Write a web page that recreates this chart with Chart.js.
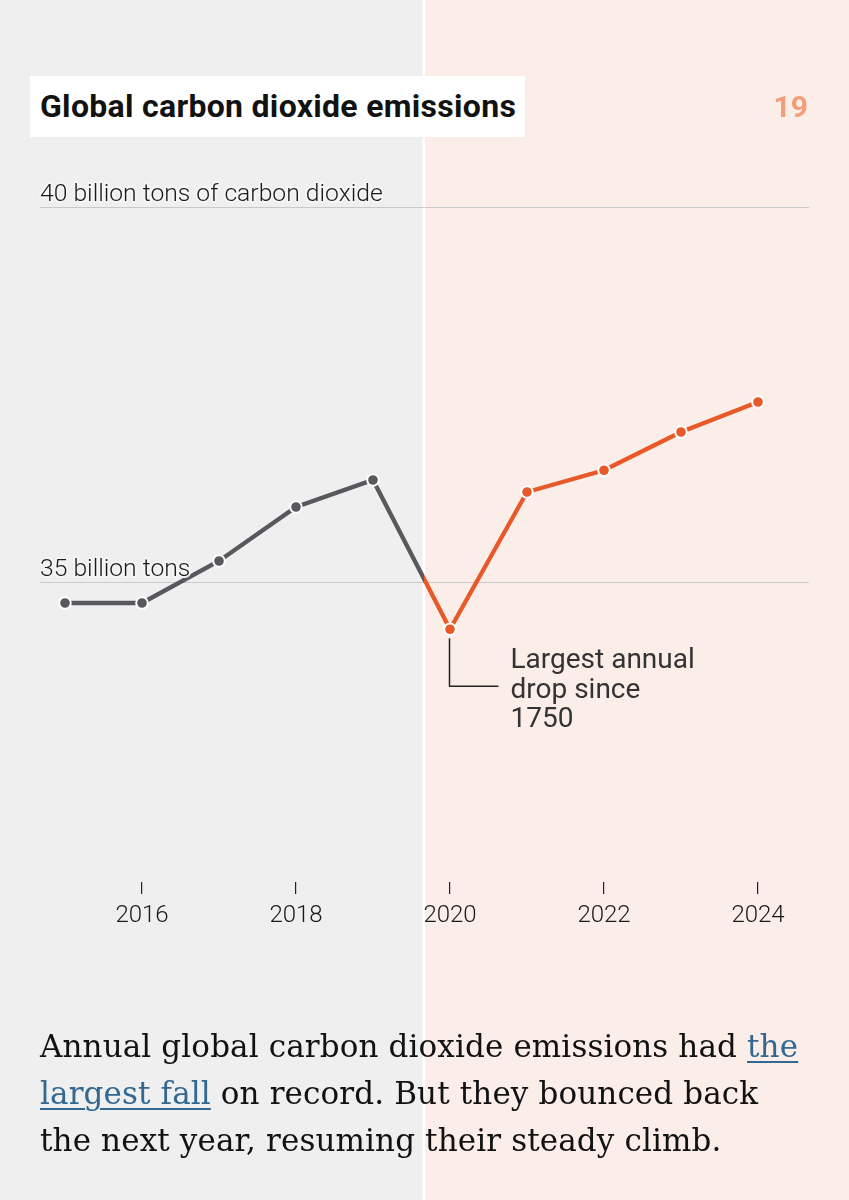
<!DOCTYPE html>
<html>
<head>
<meta charset="utf-8">
<script src="https://cdn.jsdelivr.net/npm/chart.js@4/dist/chart.umd.min.js"></script>
<style>
  html, body { margin: 0; padding: 0; }
  body { width: 849px; height: 1200px; position: relative; overflow: hidden; background: #efefef; }
  #grafico { position: absolute; left: 0; top: 0; }
  .titulo {
    position: absolute; left: 30px; top: 76px; width: 495px; height: 61px;
    background: #fff; box-sizing: border-box; padding-left: 10px;
    font: 700 32px/61px Roboto, sans-serif; letter-spacing: 0.3px; color: #121212;
    white-space: nowrap;
  }
  .numero {
    position: absolute; right: 41px; top: 76px; height: 61px;
    font: 700 30px/61px Roboto, sans-serif; color: #f29e7b;
  }
  .texto {
    position: absolute; left: 40px; top: 1023px; margin: 0;
    font: 400 31px/47px "DejaVu Serif", serif; color: #121212; white-space: nowrap;
    letter-spacing: 0.12px;
  }
  .texto a { color: #326891; text-decoration: underline; text-underline-offset: 4px; text-decoration-thickness: 1.5px; }
</style>
</head>
<body>
<canvas id="grafico" width="849" height="1200"></canvas>
<div class="titulo">Global carbon dioxide emissions</div>
<div class="numero">19</div>
<p class="texto">Annual global carbon dioxide emissions had <a>the<br>largest fall</a> on record. But they bounced back<br>the next year, resuming their steady climb.</p>

<script>
// datos (miles de millones de toneladas de CO2)
const years = [2015, 2016, 2017, 2018, 2019, 2020, 2021, 2022, 2023, 2024];
const emissions = [34.72, 34.72, 35.28, 36.0, 36.36, 34.37, 36.2, 36.49, 37.0, 37.4];
const xTickYears = [2016, 2018, 2020, 2022, 2024];
const gridValues = [40, 35];
const gridLabels = ['40 billion tons of carbon dioxide', '35 billion tons'];
const splitYear = 2019.66;      // donde empieza el fondo resaltado
const annotationYear = 2020;
const annotationLines = ['Largest annual', 'drop since', '1750'];

const GRAY = '#58595c';
const ORANGE = '#e8592a';
const BG_LEFT = '#efefef';
const BG_RIGHT = '#fbeee9';

// fondo partido en dos + línea blanca
const fondoPlugin = {
  id: 'fondo',
  beforeDraw(chart){
    const { ctx, width, height } = chart;
    const xs = chart.scales.x.getPixelForValue(splitYear);
    ctx.save();
    ctx.fillStyle = BG_LEFT;
    ctx.fillRect(0, 0, xs, height);
    ctx.fillStyle = BG_RIGHT;
    ctx.fillRect(xs, 0, width - xs, height);
    ctx.strokeStyle = '#ffffff';
    ctx.lineWidth = 2.5;
    ctx.beginPath();
    ctx.moveTo(xs, 0);
    ctx.lineTo(xs, height);
    ctx.stroke();
    ctx.restore();
  },
  // líneas horizontales de referencia
  beforeDatasetsDraw(chart){
    const { ctx, chartArea } = chart;
    const y = chart.scales.y;
    ctx.save();
    ctx.strokeStyle = '#c9c9c9';
    ctx.lineWidth = 1;
    gridValues.forEach(v => {
      const py = Math.round(y.getPixelForValue(v)) + 0.5;
      ctx.beginPath();
      ctx.moveTo(chartArea.left, py);
      ctx.lineTo(chartArea.right, py);
      ctx.stroke();
    });
    ctx.restore();
  },
  afterDatasetsDraw(chart){
    const { ctx, chartArea } = chart;
    const y = chart.scales.y;
    ctx.save();
    ctx.font = '300 24.7px Roboto, sans-serif';
    ctx.textBaseline = 'alphabetic';
    ctx.textAlign = 'left';
    gridValues.forEach((v, i) => {
      const py = y.getPixelForValue(v) - 6;
      ctx.strokeStyle = 'rgba(245,245,245,0.9)';
      ctx.lineWidth = 4;
      ctx.lineJoin = 'round';
      ctx.strokeText(gridLabels[i], chartArea.left, py);
      ctx.fillStyle = '#1a1a1a';
      ctx.fillText(gridLabels[i], chartArea.left, py);
    });

    // anotación de 2020
    const idx = years.indexOf(annotationYear);
    const pt = chart.getDatasetMeta(0).data[idx];
    if (pt){
      const px = Math.round(pt.x) - 0.5;
      ctx.strokeStyle = '#222';
      ctx.lineWidth = 1.5;
      ctx.beginPath();
      ctx.moveTo(px, pt.y + 9);
      ctx.lineTo(px, pt.y + 57);
      ctx.lineTo(px + 49, pt.y + 57);
      ctx.stroke();
      ctx.fillStyle = '#333';
      ctx.font = '400 28px Roboto, sans-serif';
      annotationLines.forEach((t, i) => {
        ctx.fillText(t, px + 61, pt.y + 39 + i * 29.5);
      });
    }
    ctx.restore();
  }
};

function colorLinea(context){
  const chart = context.chart;
  const area = chart.chartArea;
  if (!area) return GRAY;
  const xs = chart.scales.x.getPixelForValue(splitYear);
  const t = Math.min(1, Math.max(0, (xs - area.left) / (area.right - area.left)));
  const g = chart.ctx.createLinearGradient(area.left, 0, area.right, 0);
  g.addColorStop(0, GRAY);
  g.addColorStop(t, GRAY);
  g.addColorStop(t, ORANGE);
  g.addColorStop(1, ORANGE);
  return g;
}

function colorPunto(context){
  const yr = years[context.dataIndex];
  return yr >= splitYear ? ORANGE : GRAY;
}

const ctx = document.getElementById('grafico').getContext('2d');
new Chart(ctx, {
  type: 'line',
  data: {
    datasets: [{
      label: 'CO2',
      data: years.map((yr, i) => ({ x: yr, y: emissions[i] })),
      borderColor: colorLinea,
      borderWidth: 4.3,
      pointRadius: 5.8,
      pointBorderWidth: 2,
      pointBorderColor: '#ffffff',
      pointBackgroundColor: colorPunto,
      tension: 0
    }]
  },
  plugins: [fondoPlugin],
  options: {
    responsive: false,
    animation: false,
    devicePixelRatio: 1,
    layout: { padding: { left: 40, right: 40, top: 207, bottom: 272 } },
    plugins: { legend: { display: false }, tooltip: { enabled: false } },
    scales: {
      x: {
        type: 'linear',
        min: 2015 - 25 / 77,
        max: 2024 + 51 / 77,
        afterBuildTicks(scale){ scale.ticks = xTickYears.map(v => ({ value: v })); },
        afterFit(scale){ scale.height = 46; },
        grid: { drawOnChartArea: false, drawTicks: true, tickLength: 12, color: '#222', lineWidth: 1.2 },
        border: { display: false },
        ticks: {
          padding: 8,
          color: '#1a1a1a',
          font: { family: 'Roboto', size: 24, weight: '300' },
          callback: v => String(v),
          maxRotation: 0
        }
      },
      y: {
        display: false,
        min: 31,
        max: 40
      }
    }
  }
});
</script>
</body>
</html>
